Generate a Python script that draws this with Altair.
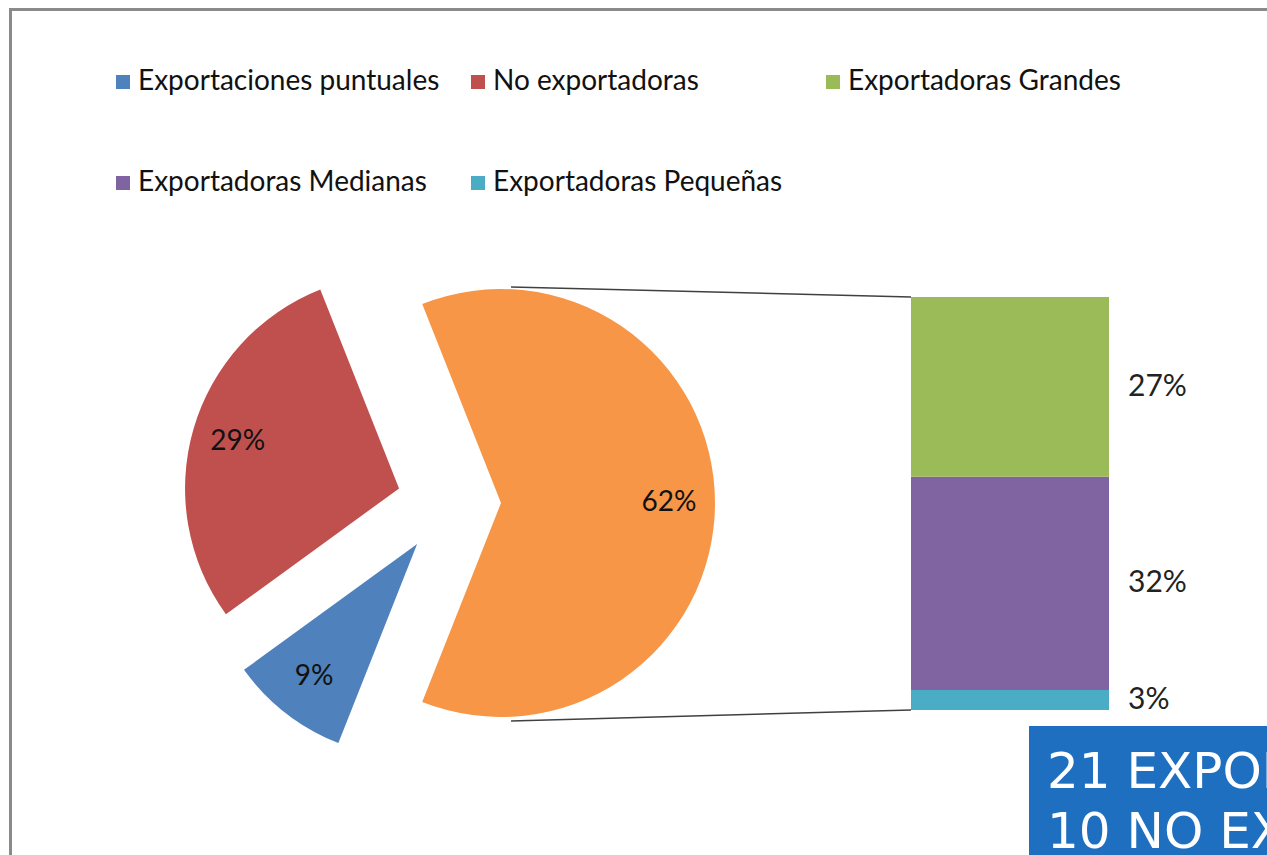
import math
import altair as alt
import pandas as pd

# ---------------- data ----------------
pie_categories = ["Exportadoras", "Exportaciones puntuales", "No exportadoras"]
pie_values = [62, 9, 29]

bar_categories = ["Exportadoras Pequeñas", "Exportadoras Medianas", "Exportadoras Grandes"]
bar_values = [3, 32, 27]

legend_order = ["Exportaciones puntuales", "No exportadoras", "Exportadoras Grandes",
                "Exportadoras Medianas", "Exportadoras Pequeñas"]

all_categories = ["Exportadoras", "Exportaciones puntuales", "No exportadoras",
                  "Exportadoras Grandes", "Exportadoras Medianas", "Exportadoras Pequeñas"]
all_colors = ["#F79646", "#4F81BD", "#C0504D", "#9BBB59", "#8064A2", "#4BACC6"]

box_lines = ["21 EXPORTADORAS", "10 NO EXPORTADORAS"]

# ---------------- layout (styling only) ----------------
W, H = 1267, 855
PIE_CX, PIE_CY = 449, 503
R = 214
EXPLODE = 52
LABEL_R = 168
BAR_X0, BAR_X1 = 911, 1109
BAR_TOP, BAR_BOTTOM = 297, 710
BAR_LABEL_X = 1128
FONT = "Lato"

A0 = math.pi / 2 - pie_values[0] / 100 * math.pi   # first slice centred on the right

pie_df = pd.DataFrame({"cat": pie_categories, "value": pie_values,
                       "order": list(range(len(pie_values)))})
bar_df = pd.DataFrame({"cat": bar_categories, "value": bar_values,
                       "order": list(range(len(bar_values)))})
box_df = pd.DataFrame({"line": box_lines, "i": list(range(len(box_lines)))})

color_scale = alt.Scale(domain=all_categories, range=all_colors)


def make_legend():
    return alt.Legend(
        values=legend_order, orient="none", legendX=109, legendY=68,
        direction="horizontal", columns=3, gridAlign="all",
        columnPadding=24, rowPadding=73,
        symbolType="square", symbolSize=196, symbolStrokeWidth=0,
        symbolOffset=0, labelOffset=1,
        labelFont=FONT, labelFontSize=28, labelColor="#111111", labelLimit=0,
        title=None,
    )


theta_scale = alt.Scale(domain=[0, 100], range=[A0, A0 + 2 * math.pi])

pie_base = (
    alt.Chart(pie_df)
    .transform_window(end="sum(value)", frame=[None, 0], sort=[alt.SortField("order")])
    .transform_calculate(start="datum.end - datum.value")
    .transform_calculate(mid="(datum.start + datum.end) / 2")
    .transform_calculate(ang=f"{A0} + datum.mid / 100 * 2 * PI")
    .transform_calculate(
        cx=f"{PIE_CX} + {EXPLODE} * sin(datum.ang)",
        cy=f"{PIE_CY} - {EXPLODE} * cos(datum.ang)",
        label="datum.value + '%'",
    )
)

pie = pie_base.mark_arc(radius=R).encode(
    x=alt.X("cx:Q", scale=None, axis=None),
    y=alt.Y("cy:Q", scale=None, axis=None),
    theta=alt.Theta("start:Q", scale=theta_scale, stack=None),
    theta2="end:Q",
    color=alt.Color("cat:N", scale=color_scale, legend=make_legend()),
)

pie_labels = pie_base.mark_text(radius=LABEL_R, font=FONT, fontSize=28,
                                color="#111111", align="center", baseline="middle").encode(
    x=alt.X("cx:Q", scale=None, axis=None),
    y=alt.Y("cy:Q", scale=None, axis=None),
    theta=alt.Theta("mid:Q", scale=theta_scale, stack=None),
    text="label:N",
)

bar_total = sum(bar_values)
y_bar = alt.Scale(domain=[0, bar_total], range=[BAR_BOTTOM, BAR_TOP], nice=False, zero=False)

bar_base = (
    alt.Chart(bar_df)
    .transform_window(end="sum(value)", frame=[None, 0], sort=[alt.SortField("order")])
    .transform_calculate(start="datum.end - datum.value")
    .transform_calculate(mid="(datum.start + datum.end) / 2", label="datum.value + '%'")
)

bar = bar_base.mark_bar().encode(
    x=alt.value(BAR_X0),
    x2=alt.value(BAR_X1),
    y=alt.Y("start:Q", scale=y_bar, axis=None),
    y2="end:Q",
    color=alt.Color("cat:N", scale=color_scale, legend=make_legend()),
)

bar_labels = bar_base.mark_text(align="left", baseline="middle", font=FONT,
                                fontSize=30, color="#222222").encode(
    x=alt.value(BAR_LABEL_X),
    y=alt.Y("mid:Q", scale=y_bar, axis=None),
    text="label:N",
)

# connector lines between the exploded slice and the bar
conn_x = PIE_CX + EXPLODE + 10
connector_top = alt.Chart().mark_rule(color="#404040", strokeWidth=1.5).encode(
    x=alt.value(conn_x), y=alt.value(PIE_CY - R - 2),
    x2=alt.value(BAR_X0), y2=alt.value(BAR_TOP),
)
connector_bottom = alt.Chart().mark_rule(color="#404040", strokeWidth=1.5).encode(
    x=alt.value(conn_x), y=alt.value(PIE_CY + R + 4),
    x2=alt.value(BAR_X0), y2=alt.value(BAR_BOTTOM),
)

# outer frame (only top and left edges fall inside the picture)
frame = alt.Chart().mark_rect(fill="white", stroke="#8a8a8a", strokeWidth=3).encode(
    x=alt.value(10.5), y=alt.value(9.5), x2=alt.value(W + 40), y2=alt.value(H + 40),
)

# blue box overlapping the bottom-right corner
box = alt.Chart().mark_rect(fill="#1F6FC1").encode(
    x=alt.value(1029), y=alt.value(726), x2=alt.value(W + 40), y2=alt.value(H + 40),
)
box_text = (
    alt.Chart(box_df)
    .transform_calculate(yy="788 + datum.i * 60")
    .mark_text(align="left", baseline="alphabetic", font="DejaVu Sans",
               fontSize=50, color="white")
    .encode(
        x=alt.value(1047),
        y=alt.Y("yy:Q", scale=None, axis=None),
        text="line:N",
    )
)

chart = (
    alt.layer(frame, pie, pie_labels, connector_top, connector_bottom,
              bar, bar_labels, box, box_text)
    .resolve_scale(x="independent", y="independent", theta="independent")
    .properties(width=W, height=H, padding=0, autosize="none", background="white")
    .configure_view(stroke=None)
)

chart.save("out.html", embed_options={"renderer": "svg", "actions": False})
